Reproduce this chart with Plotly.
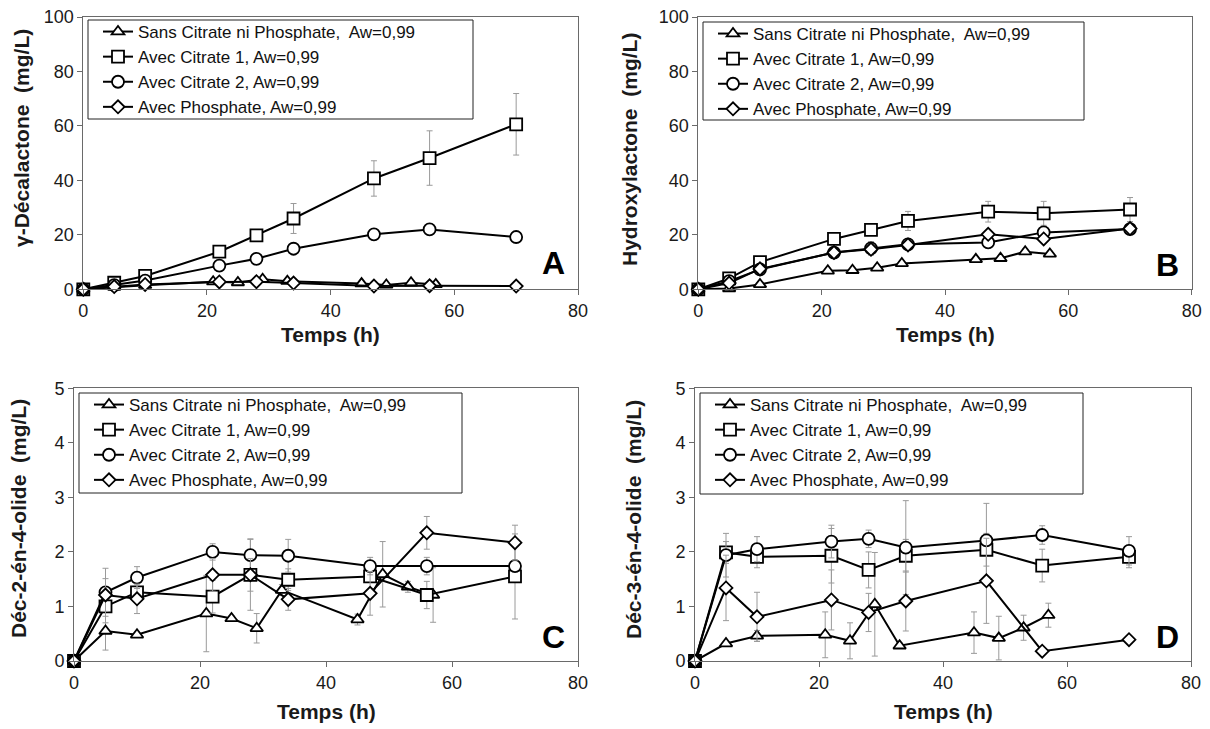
import plotly.graph_objects as go

W, H = 1210, 729
OFF = 8  # page body margin offset compensation

# ---------------- data ----------------
t_sans = [0, 5, 10, 21, 25, 29, 33, 45, 49, 53, 57]
t_other = [0, 5, 10, 22, 28, 34, 47, 56, 70]

series_names = [
    "Sans Citrate ni Phosphate,  Aw=0,99",
    "Avec Citrate 1, Aw=0,99",
    "Avec Citrate 2, Aw=0,99",
    "Avec Phosphate, Aw=0,99",
]

# Panel A : gamma-decalactone
A_sans = [0, 0.8, 1.5, 2.8, 2.5, 3.7, 3.0, 2.1, 1.6, 2.4, 1.8]
A_sans_err = [0, 0.3, 0.3, 1.0, 0.5, 1.0, 0.8, 0.5, 0.4, 0.5, 0.4]
A_c1 = [0, 2.4, 4.9, 13.8, 19.8, 26.0, 40.7, 48.2, 60.6]
A_c1_err = [0, 0.5, 0.8, 1.5, 1.0, 5.5, 6.5, 10.0, 11.3]
A_c2 = [0, 1.5, 3.2, 8.7, 11.2, 14.9, 20.2, 22.0, 19.2]
A_c2_err = [0, 0.3, 0.5, 1.0, 0.8, 1.0, 1.0, 1.0, 1.0]
A_ph = [0, 1.0, 1.8, 2.7, 2.8, 2.3, 1.2, 1.3, 1.2]
A_ph_err = [0, 0.2, 0.3, 0.5, 0.5, 0.4, 0.3, 0.3, 0.3]

# Panel B : hydroxylactone
B_sans = [0, 0.3, 1.8, 6.8, 7.0, 7.9, 9.5, 11.0, 11.4, 13.8, 13.0]
B_sans_err = [0, 0.2, 0.3, 0.8, 0.6, 0.8, 0.8, 1.0, 0.8, 1.0, 1.0]
B_c1 = [0, 4.0, 10.0, 18.5, 21.8, 25.1, 28.5, 27.9, 29.3]
B_c1_err = [0, 0.5, 1.0, 1.0, 1.0, 3.5, 3.8, 4.4, 4.4]
B_c2 = [0, 3.0, 7.3, 13.5, 15.0, 16.5, 17.2, 20.9, 22.1]
B_c2_err = [0, 0.5, 1.0, 1.0, 2.5, 1.0, 1.0, 1.0, 1.0]
B_ph = [0, 2.3, 7.5, 13.5, 14.7, 16.3, 20.2, 18.5, 22.3]
B_ph_err = [0, 0.5, 0.8, 1.0, 1.0, 1.0, 1.0, 1.0, 1.0]

# Panel C : dec-2-en-4-olide
C_sans = [0, 0.55, 0.48, 0.87, 0.78, 0.60, 1.30, 0.76, 1.59, 1.36, 1.21]
C_sans_err = [0, 0.35, 0.05, 0.70, 0.05, 0.27, 0.10, 0.10, 0.60, 0.10, 0.50]
C_c1 = [0, 1.00, 1.26, 1.18, 1.58, 1.49, 1.55, 1.21, 1.55]
C_c1_err = [0, 0.30, 0.10, 0.30, 0.65, 0.20, 0.10, 0.25, 0.78]
C_c2 = [0, 1.26, 1.53, 2.00, 1.94, 1.93, 1.74, 1.74, 1.74]
C_c2_err = [0, 0.44, 0.20, 0.15, 0.30, 0.30, 0.16, 0.16, 0.10]
C_ph = [0, 1.21, 1.14, 1.58, 1.58, 1.13, 1.24, 2.35, 2.17]
C_ph_err = [0, 0.30, 0.27, 0.30, 0.30, 0.20, 0.40, 0.30, 0.32]

# Panel D : dec-3-en-4-olide
D_sans = [0, 0.32, 0.46, 0.48, 0.37, 1.04, 0.28, 0.52, 0.42, 0.61, 0.84]
D_sans_err = [0, 0.05, 0.10, 0.42, 0.33, 0.95, 0.05, 0.38, 0.40, 0.23, 0.22]
D_c1 = [0, 1.99, 1.91, 1.93, 1.67, 1.93, 2.04, 1.75, 1.91]
D_c1_err = [0, 0.20, 0.20, 0.50, 0.33, 0.30, 0.30, 0.30, 0.20]
D_c2 = [0, 1.94, 2.05, 2.19, 2.24, 2.08, 2.21, 2.31, 2.02]
D_c2_err = [0, 0.40, 0.23, 0.30, 0.16, 0.86, 0.68, 0.17, 0.26]
D_ph = [0, 1.34, 0.81, 1.12, 0.89, 1.10, 1.47, 0.18, 0.39]
D_ph_err = [0, 0.60, 0.45, 0.55, 0.35, 0.55, 0.78, 0.05, 0.05]

y_titles = ["γ-Décalactone  (mg/L)", "Hydroxylactone  (mg/L)",
            "Déc-2-én-4-olide  (mg/L)", "Déc-3-én-4-olide  (mg/L)"]
x_title = "Temps (h)"
panel_letters = ["A", "B", "C", "D"]
y_max = [100, 100, 5, 5]
y_dtick = [20, 20, 1, 1]
x_ticks = [0, 20, 40, 60, 80]

panels = [
    (A_sans, A_sans_err, A_c1, A_c1_err, A_c2, A_c2_err, A_ph, A_ph_err),
    (B_sans, B_sans_err, B_c1, B_c1_err, B_c2, B_c2_err, B_ph, B_ph_err),
    (C_sans, C_sans_err, C_c1, C_c1_err, C_c2, C_c2_err, C_ph, C_ph_err),
    (D_sans, D_sans_err, D_c1, D_c1_err, D_c2, D_c2_err, D_ph, D_ph_err),
]

# ---------------- layout geometry (screen pixels) ----------------
areas = [(83.3, 578, 17, 289.3), (698.3, 1191.7, 17, 289.3),
         (74, 578, 388.3, 661), (695, 1191, 388.3, 661)]
legend_boxes = [(88, 20, 473, 119), (703, 22, 1084, 120),
                (79, 393, 462, 493), (700, 393, 1083, 494)]
ytitle_pos = [(21, 138), (630, 150), (18, 519), (633, 519)]
xtitle_y = [334, 334, 711, 711]
letter_pos = [(553, 263), (1167, 265), (553, 637), (1167, 637)]

FONT = "Arial, Liberation Sans, sans-serif"
symbols = ["triangle-up", "square", "circle", "diamond"]
msizes = [11, 12, 12, 10]

def px(x):
    return (x - OFF) / W

def py(y):
    return 1 - (y - OFF) / H

fig = go.Figure()
layout = dict(width=W, height=H,
              margin=dict(l=0, r=0, t=0, b=0, pad=0, autoexpand=False),
              paper_bgcolor="white", plot_bgcolor="white",
              font=dict(family=FONT, color="#000000"),
              showlegend=True, annotations=[], shapes=[])

for i, pdata in enumerate(panels):
    n = "" if i == 0 else str(i + 1)
    xa, ya = "x" + n, "y" + n
    leg = "legend" + n
    ys = [pdata[0], pdata[2], pdata[4], pdata[6]]
    es = [pdata[1], pdata[3], pdata[5], pdata[7]]
    ts = [t_sans, t_other, t_other, t_other]
    for k in range(4):
        fig.add_trace(go.Scatter(
            x=ts[k], y=ys[k], name=series_names[k], mode="lines+markers",
            xaxis=xa, yaxis=ya, legend=leg, cliponaxis=False,
            line=dict(color="black", width=2),
            marker=dict(symbol=symbols[k], size=msizes[k],
                        color="white", line=dict(color="black", width=1.8)),
            error_y=dict(type="data", array=es[k], visible=True,
                         color="#9a9a9a", thickness=1, width=3),
        ))
    l, r, t, b = areas[i]
    axis_common = dict(showline=True, linecolor="#6a6a6a", linewidth=1,
                       mirror=True, ticks="outside", ticklen=5,
                       tickcolor="#6a6a6a", showgrid=False, zeroline=False,
                       automargin=False, ticklabeloverflow="allow",
                       tickfont=dict(family=FONT, size=18, color="#1a1a1a"))
    layout["xaxis" + n] = dict(axis_common, domain=[px(l), px(r)], range=[0, 80],
                               tickvals=x_ticks, anchor=ya)
    layout["yaxis" + n] = dict(axis_common, domain=[py(b), py(t)],
                               range=[0, y_max[i]], dtick=y_dtick[i], anchor=xa)
    bl, bt, br, bb = legend_boxes[i]
    layout[leg] = dict(x=px(bl + 10), y=py(bt - 6), xanchor="left", yanchor="top",
                       xref="paper", yref="paper", bgcolor="rgba(0,0,0,0)",
                       borderwidth=0, itemwidth=30,
                       font=dict(family=FONT, size=17, color="#111111"))
    layout["shapes"].append(dict(type="rect", xref="paper", yref="paper",
                                 x0=px(bl), x1=px(br), y0=py(bb), y1=py(bt),
                                 line=dict(color="#222222", width=1),
                                 fillcolor="rgba(0,0,0,0)", layer="above"))
    tx, tyy = ytitle_pos[i]
    layout["annotations"].append(dict(text="<b>" + y_titles[i] + "</b>", textangle=-90,
                                      x=px(tx), y=py(tyy), xref="paper", yref="paper",
                                      showarrow=False, xanchor="center", yanchor="middle",
                                      font=dict(family=FONT, size=21, color="#1a1a1a")))
    layout["annotations"].append(dict(text="<b>" + x_title + "</b>",
                                      x=px((l + r) / 2), y=py(xtitle_y[i]),
                                      xref="paper", yref="paper", showarrow=False,
                                      xanchor="center", yanchor="middle",
                                      font=dict(family=FONT, size=21, color="#1a1a1a")))
    lx, ly = letter_pos[i]
    layout["annotations"].append(dict(text="<b>" + panel_letters[i] + "</b>",
                                      x=px(lx), y=py(ly), xref="paper", yref="paper",
                                      showarrow=False, xanchor="center", yanchor="middle",
                                      font=dict(family=FONT, size=32, color="#000000")))

fig.update_layout(**layout)
fig.write_html("out.html")
